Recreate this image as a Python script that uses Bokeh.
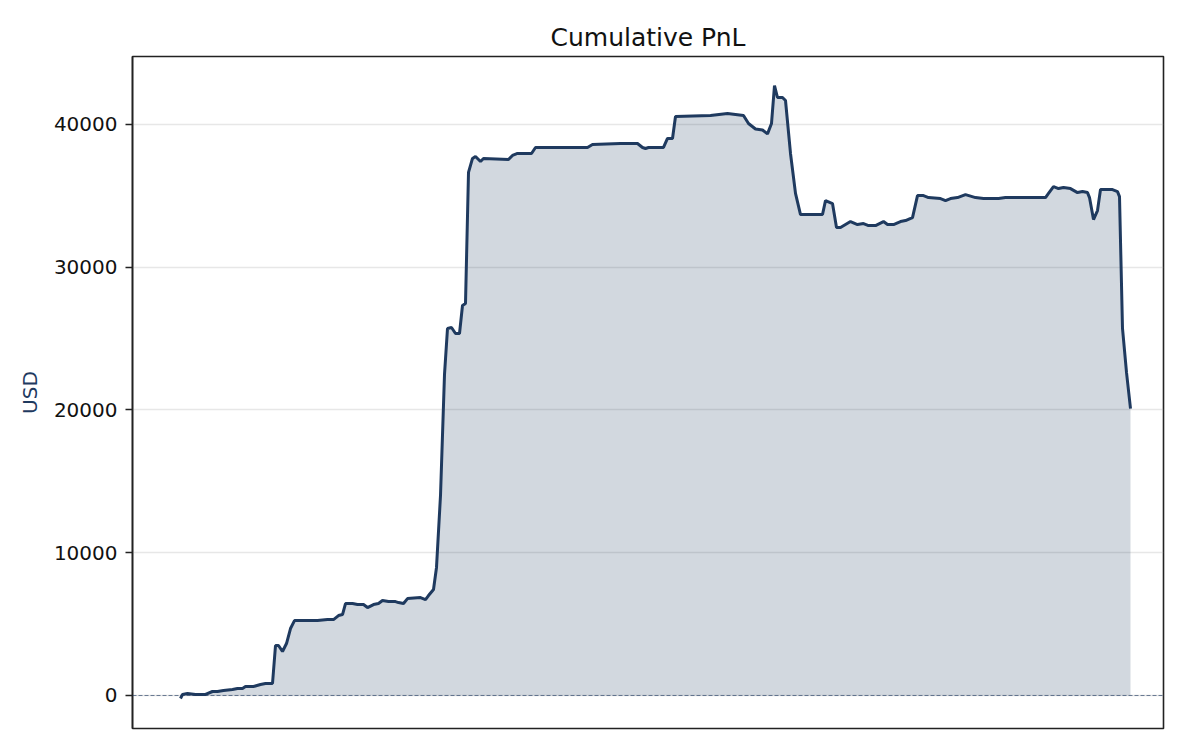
from bokeh.plotting import figure
from bokeh.models import Range1d, FixedTicker, BasicTickFormatter, Span, ColumnDataSource
from bokeh.embed import file_html
from bokeh.resources import INLINE

# trading-day index (x axis carries no labels)
days = [0, 2, 7, 15, 25, 32, 37, 43, 52, 57, 62, 65, 73, 80, 85, 92, 95, 98, 102, 106,
        110, 114, 120, 137, 147, 153, 158, 162, 165, 172, 177, 183, 187, 193, 198, 202,
        208, 215, 218, 223, 227, 240, 245, 248, 253, 256, 260, 264, 267, 271, 275, 279,
        282, 285, 288, 292, 295, 300, 303, 328, 332, 337, 351, 355, 370, 407, 412, 440,
        457, 462, 465, 468, 483, 487, 492, 495, 530, 547, 563, 568, 575, 582, 587, 591,
        594, 597, 602, 605, 610, 615, 620, 642, 645, 652, 656, 660, 670, 677, 683, 688,
        695, 703, 707, 713, 720, 725, 732, 737, 743, 748, 760, 765, 770, 777, 785, 795,
        803, 818, 825, 847, 865, 868, 873, 878, 883, 890, 897, 902, 907, 909, 913, 917,
        920, 932, 937, 939, 942, 946, 950]

# cumulative PnL in USD
pnl = [-210, 70, 140, 70, 70, 280, 280, 350, 420, 490, 490, 630, 630, 770, 840, 840,
       3500, 3500, 3080, 3640, 4690, 5250, 5250, 5250, 5320, 5320, 5600, 5670, 6440,
       6440, 6370, 6370, 6160, 6370, 6440, 6650, 6580, 6580, 6510, 6440, 6790, 6860,
       6720, 7000, 7430, 8970, 14010, 22490, 25710, 25780, 25360, 25360, 27320, 27460,
       36640, 37620, 37760, 37410, 37620, 37550, 37830, 37970, 37970, 38390, 38390,
       38390, 38600, 38670, 38670, 38390, 38320, 38390, 38390, 39020, 39020, 40560,
       40630, 40770, 40630, 40070, 39680, 39610, 39340, 40070, 42730, 41890, 41890,
       41680, 37970, 35170, 33690, 33690, 34670, 34460, 32780, 32780, 33200, 32990,
       33060, 32920, 32920, 33200, 32990, 32990, 33200, 33270, 33480, 35020, 35020,
       34880, 34810, 34670, 34810, 34880, 35090, 34880, 34810, 34810, 34880, 34880,
       34880, 35170, 35650, 35510, 35590, 35510, 35230, 35300, 35230, 34880, 33340,
       33970, 35440, 35440, 35300, 34950, 25710, 22630, 20100]

y_ticks = [0, 10000, 20000, 30000, 40000]

NAVY = "#1f3a5f"
FONT = "DejaVu Sans"

src = ColumnDataSource(dict(day=days, pnl=pnl, base=[0] * len(days)))

p = figure(
    frame_width=1031, frame_height=672,
    min_border_left=132, min_border_right=29, min_border_top=56, min_border_bottom=14,
    x_range=Range1d(-48, 983), y_range=Range1d(-2312, 44762),
    output_backend="svg", toolbar_location=None,
    title="Cumulative PnL",
)

p.title.align = "center"
p.title.text_font = FONT
p.title.text_font_size = "25px"
p.title.text_font_style = "normal"
p.title.text_color = "#111111"
p.title.standoff = 10

p.background_fill_color = "white"
p.border_fill_color = "white"
p.outline_line_color = "#222222"
p.outline_line_width = 1.6

p.xaxis.visible = False
p.xgrid.visible = False

ax = p.yaxis[0]
ax.ticker = FixedTicker(ticks=y_ticks)
ax.formatter = BasicTickFormatter(use_scientific=False)
ax.major_label_text_font = FONT
ax.major_label_text_font_size = "20px"
ax.major_label_text_color = "#111111"
ax.major_tick_out = 7
ax.major_tick_in = 0
ax.major_tick_line_color = "#222222"
ax.major_tick_line_width = 1.5
ax.minor_tick_line_color = None
ax.axis_line_color = "#222222"
ax.axis_line_width = 1.6
ax.major_label_standoff = 8
ax.axis_label = "USD"
ax.axis_label_text_font = FONT
ax.axis_label_text_font_size = "20px"
ax.axis_label_text_font_style = "normal"
ax.axis_label_text_color = NAVY
ax.axis_label_standoff = 9

p.ygrid.grid_line_color = "#b0b0b0"
p.ygrid.grid_line_alpha = 0.3
p.ygrid.grid_line_width = 1.5

p.varea(x="day", y1="base", y2="pnl", source=src, fill_color=NAVY, fill_alpha=0.2)
p.add_layout(Span(location=0, dimension="width", line_color=NAVY, line_alpha=0.7,
                  line_width=0.9, line_dash="4 2"))
p.line(x="day", y="pnl", source=src, line_color=NAVY, line_width=3)

open("out.html", "w").write(file_html(p, INLINE))
